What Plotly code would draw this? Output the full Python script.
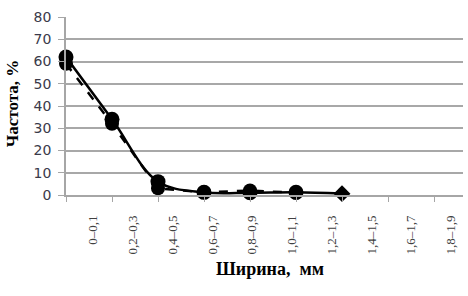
import plotly.graph_objects as go

# Data
categories = ["0–0,1", "0,2–0,3", "0,4–0,5", "0,6–0,7", "0,8–0,9",
              "1,0–1,1", "1,2–1,3", "1,4–1,5", "1,6–1,7", "1,8–1,9"]
solid_values = [62, 34, 6, 1.2, 1.0, 1.2, 0.6]
dashed_values = [59, 32, 3, 1.2, 2.0, 1.0]

x_solid = list(range(len(solid_values)))
x_dashed = list(range(len(dashed_values)))

fig = go.Figure()
fig.add_trace(go.Scatter(
    x=x_dashed, y=dashed_values, mode="lines+markers",
    line=dict(color="black", width=2.5, dash="dash"),
    marker=dict(symbol="circle", size=14, color="black"),
    showlegend=False, cliponaxis=False))
fig.add_trace(go.Scatter(
    x=x_solid, y=solid_values, mode="lines",
    line=dict(color="black", width=2.5, shape="spline", smoothing=1.0),
    showlegend=False, cliponaxis=False))
fig.add_trace(go.Scatter(
    x=x_solid[:-1], y=solid_values[:-1], mode="markers",
    marker=dict(symbol="circle", size=15, color="black"),
    showlegend=False, cliponaxis=False))
fig.add_trace(go.Scatter(
    x=x_solid[-1:], y=solid_values[-1:], mode="markers",
    marker=dict(symbol="diamond", size=13, color="black"),
    showlegend=False, cliponaxis=False))

# invisible trace to anchor second x axis
fig.add_trace(go.Scatter(x=[0], y=[0], xaxis="x2", mode="markers",
                         marker=dict(opacity=0), showlegend=False, hoverinfo="skip"))

xrange = [0, 8.63]
label_pos = [0.59 + 0.864 * i for i in range(len(categories))]

fig.update_layout(
    width=468, height=296,
    margin=dict(l=66, r=5, t=17, b=101),
    paper_bgcolor="white", plot_bgcolor="white",
    hovermode=False,
    xaxis=dict(range=xrange, tickvals=list(range(9)), showticklabels=False,
               ticks="outside", ticklen=5, tickcolor="#a6a6a6", tickwidth=1,
               showgrid=False, zeroline=False, automargin=False,
               showline=True, linecolor="#a6a6a6", linewidth=1.5),
    xaxis2=dict(range=xrange, overlaying="x", side="bottom", anchor="y",
                tickvals=label_pos, ticktext=categories, tickangle=-90,
                ticks="", showgrid=False, zeroline=False, showline=False,
                ticklabelstandoff=17, automargin=False,
                tickfont=dict(family="Liberation Serif", size=13, color="#404040")),
    yaxis=dict(range=[0, 80], dtick=10, showgrid=True, gridcolor="#a8a8a8",
               gridwidth=1.5, zeroline=False, showline=True, automargin=False,
               linecolor="#a6a6a6", linewidth=1.5,
               ticks="outside", ticklen=6, tickcolor="#a6a6a6",
               ticklabelstandoff=4,
               tickfont=dict(family="DejaVu Sans", size=14, color="#3a3a4a")),
    annotations=[
        dict(text="<b>Ширина,  мм</b>", xref="paper", yref="paper",
             x=0.514, y=-0.415, showarrow=False, xanchor="center", yanchor="middle",
             font=dict(family="Liberation Serif", size=18, color="black")),
        dict(text="<b>Частота, %</b>", xref="paper", yref="paper",
             x=-0.136, y=0.51, showarrow=False, textangle=-90,
             xanchor="center", yanchor="middle",
             font=dict(family="Liberation Serif", size=17, color="black")),
    ],
)

fig.write_html("out.html", config={"displayModeBar": False},
               post_script="document.body.style.margin='0px';")
